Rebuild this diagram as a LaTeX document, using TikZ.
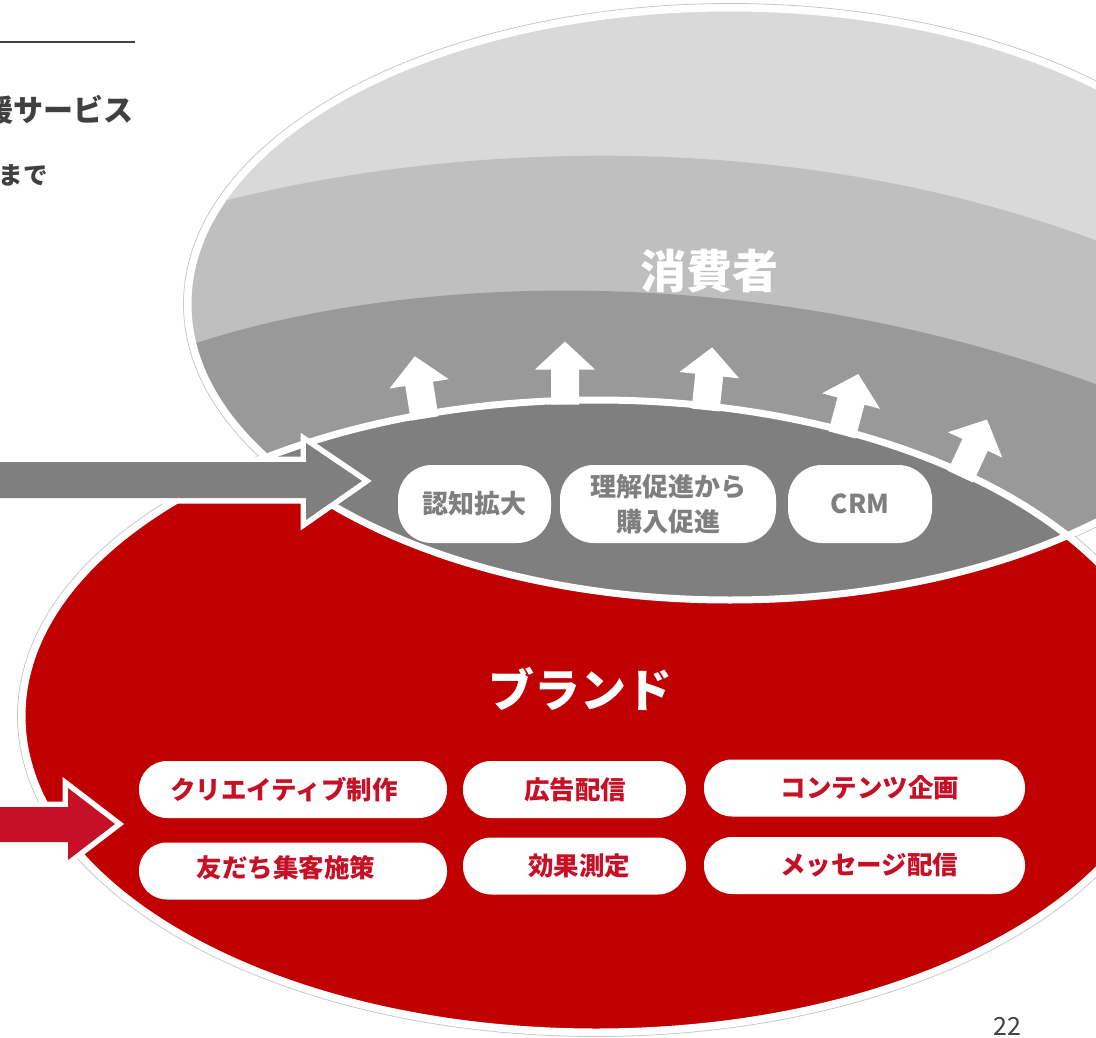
\documentclass[tikz,border=0pt]{standalone}
\usepackage{fontspec}
\setmainfont{Noto Sans CJK JP}
\definecolor{rbg}{RGB}{192,0,0}
\definecolor{rtext}{RGB}{197,16,38}
\definecolor{gA}{RGB}{217,217,217}
\definecolor{gB}{RGB}{191,191,191}
\definecolor{gC}{RGB}{153,153,153}
\definecolor{gD}{RGB}{127,127,127}
\definecolor{dk}{RGB}{64,64,64}
\definecolor{ring}{RGB}{200,200,200}
\tikzset{
  redell/.style={insert path={(596,716) ellipse [x radius=574pt, y radius=316pt]}},
  grayell/.style={insert path={(730,304) ellipse [x radius=542pt, y radius=296pt]}},
  grayarrowpath/.style={insert path={(-20,462) -- (306,462) -- (306,443) -- (362,481) -- (306,520) -- (306,498) -- (-20,498) -- cycle}},
  redarrowpath/.style={insert path={(-20,807) -- (68,807) -- (68,788) -- (115,824) -- (68,860) -- (68,842) -- (-20,842) -- cycle}},
  uparrow/.pic={\fill[white] (-14,4) -- (-14,-31) -- (-30,-31) -- (0,-59) -- (30,-31) -- (14,-31) -- (14,4) -- cycle;},
  lenspill/.style={fill=white, rounded corners=34pt, minimum height=78pt, inner sep=0pt, text=gD,
    font=\fontsize{26}{35}\selectfont\bfseries, align=center},
  redpill/.style={fill=white, rounded corners=28pt, minimum height=57pt, inner sep=0pt},
  redtxt/.style={text=rtext, inner sep=0pt, font=\fontsize{25.5}{30}\selectfont\bfseries},
  bigtxt/.style={text=white, inner sep=0pt, font=\fontsize{46}{50}\selectfont\bfseries},
}
\begin{document}
\begin{tikzpicture}[x=1pt,y=-1pt]
\clip (0,0) rectangle (1096,1038);
\fill[white] (0,0) rectangle (1096,1038);
% thin outer outlines
\draw[ring, line width=0.8pt] (596,716) ellipse [x radius=578.5pt, y radius=320.5pt];
\draw[ring, line width=0.8pt] (730,304) ellipse [x radius=546.5pt, y radius=300.5pt];
% red ellipse
\fill[rbg, redell];
% gray ellipse bands
\begin{scope}
  \clip[grayell];
  \fill[gA] (100,0) rectangle (1200,700);
  \fill[gB] (150,222) .. controls (400,142) and (800,112) .. (1150,262) -- (1150,700) -- (150,700) -- cycle;
  \fill[gC] (150,360) .. controls (350,278) and (750,242) .. (1150,405) -- (1150,700) -- (150,700) -- cycle;
\end{scope}
% lens
\begin{scope}
  \clip[redell];
  \fill[gD, grayell];
\end{scope}
% white borders
\draw[white, line width=7pt, grayell];
\draw[white, line width=7pt, redell];
% up arrows
\pic[rotate=9] at (424,414.5) {uparrow};
\pic at (565,400.5) {uparrow};
\pic[rotate=-6] at (706,406) {uparrow};
\pic[rotate=-15] at (843,431) {uparrow};
\pic[rotate=-25] at (962,473) {uparrow};
% titles
\node[bigtxt] (cons) at (709,271) {消費者};
\node[bigtxt] (brand) at (580,689) {ブランド};
% lens pills
\node[lenspill, minimum width=153pt] (l1) at (474.5,504) {認知拡大};
\node[lenspill, minimum width=216pt] (l2) at (668,504) {理解促進から\\購入促進};
\node[lenspill, minimum width=144pt] (l3) at (860,504) {CRM};
% red pills
\node[redpill, minimum width=308pt] (b1) at (293,789.5) {};
\node[redpill, minimum width=223pt] (b2) at (574.5,789.5) {};
\node[redpill, minimum width=321pt] (b3) at (864.5,788) {};
\node[redpill, minimum width=308pt] (b4) at (293,871) {};
\node[redpill, minimum width=223pt] (b5) at (574.5,866) {};
\node[redpill, minimum width=321pt] (b6) at (864.5,865.5) {};
\node[redtxt] (t1) at (284,790) {クリエイティブ制作};
\node[redtxt] (t2) at (575,790) {広告配信};
\node[redtxt] (t3) at (870,788) {コンテンツ企画};
\node[redtxt] (t4) at (286,868) {友だち集客施策};
\node[redtxt] (t5) at (579,866) {効果測定};
\node[redtxt] (t6) at (869,865) {メッセージ配信};
% left arrows
\draw[white, line width=11pt, line join=miter, grayarrowpath];
\fill[gD, grayarrowpath];
\draw[white, line width=11pt, line join=miter, redarrowpath];
\fill[rtext, redarrowpath];
% header texts
\coordinate (ruleL) at (0,42);
\coordinate (ruleR) at (135,42);
\draw[dk, line width=1.5pt] (ruleL) -- (ruleR);
\node[anchor=east, inner sep=0pt, text=dk, font=\fontsize{30}{34}\selectfont\bfseries] (ttl) at (134,110) {援サービス};
\node[anchor=east, inner sep=0pt, text=dk, font=\fontsize{24.5}{28}\selectfont\bfseries] (sub) at (48,175) {まで};
\node[text=dk, inner sep=0pt, font=\fontsize{25}{28}\selectfont] (pg) at (1007,1026) {22};
\end{tikzpicture}
\end{document}
